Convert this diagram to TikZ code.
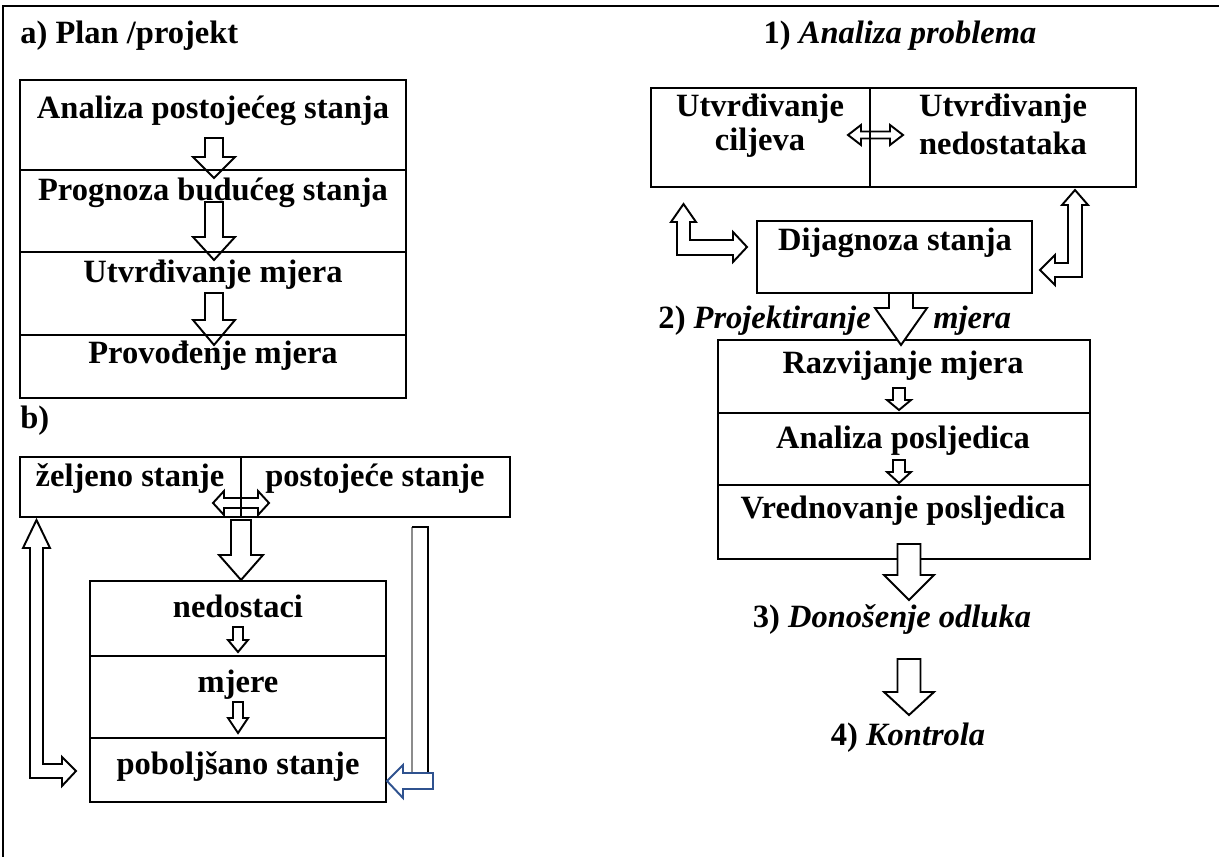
\documentclass[tikz,border=0pt]{standalone}
\usepackage{fontspec}
\setmainfont{Liberation Serif}
\begin{document}
\begin{tikzpicture}[x=0.02cm,y=-0.02cm,
  ln/.style={line width=1.1pt},
  blk/.style={line width=1.1pt, line join=miter},
  blkw/.style={line width=1.1pt, line join=miter, fill=white},
  txt/.style={font=\fontsize{18.5}{22}\selectfont\bfseries, inner sep=0pt},
  ttl/.style={font=\fontsize{18.5}{22}\selectfont\bfseries, inner sep=0pt}]
\useasboundingbox (0,0) rectangle (1219,857);
\newcommand{\hdown}[7][blk]{\draw[#1] (#2-#6,#3) -- (#2+#6,#3) -- (#2+#6,#4) -- (#2+#7,#4) -- (#2,#5) -- (#2-#7,#4) -- (#2-#6,#4) -- cycle;}
% frame
\draw[ln] (3,857) -- (3,6) -- (1219,6);
% titles
\node[ttl, anchor=west] (ta) at (20,36) {a) Plan /projekt};
\node[ttl] (t1) at (900,36) {1) \textit{Analiza problema}};
% box a
\draw[ln] (20,80) rectangle (406,398);
\draw[ln] (20,170) -- (406,170) (20,252) -- (406,252) (20,335) -- (406,335);
\node[txt] (a1) at (213,111) {Analiza postojećeg stanja};
\node[txt] (a2) at (213,193) {Prognoza budućeg stanja};
\node[txt] (a3) at (213,275) {Utvrđivanje mjera};
\node[txt] (a4) at (213,356) {Provođenje mjera};
\hdown{214}{138}{157}{178}{9}{21}
\hdown{214}{202}{237}{260}{9}{21}
\hdown{214}{293}{320}{345}{9}{21}
% b
\node[ttl, anchor=west] (tb) at (20,421) {b)};
\draw[ln] (20,457) rectangle (510,517);
\draw[ln] (241,457) -- (241,517);
\node[txt] (b1) at (130,479) {željeno stanje};
\node[txt] (b2) at (375,479) {postojeće stanje};
\draw[blk] (213,503) -- (224,491) -- (224,498) -- (258,498) -- (258,491) -- (269,503) -- (258,515) -- (258,508) -- (224,508) -- (224,515) -- cycle;
\hdown{241}{520}{555}{580}{10}{22}
\draw[ln] (90,581) rectangle (386,802);
\draw[ln] (90,656) -- (386,656) (90,738) -- (386,738);
\node[txt] (b3) at (238,606) {nedostaci};
\node[txt] (b4) at (238,685) {mjere};
\node[txt] (b5) at (238,766) {poboljšano stanje};
\hdown{238}{627}{640}{652}{5}{10}
\hdown{238}{702}{718}{733}{5}{10}
\draw[blk] (36.5,520) -- (50,548) -- (43,548) -- (43,764) -- (62,764) -- (62,757) -- (76,771) -- (62,786) -- (62,778) -- (30,778) -- (30,548) -- (23,548) -- cycle;
\draw[ln, draw=black!45] (412,773) -- (412,527);
\draw[ln] (412,527) -- (428,527) -- (428,773);
\draw[line width=1.1pt, draw={rgb,255:red,47;green,82;blue,143}, fill=white] (387,781) -- (403,765) -- (403,773) -- (433,773) -- (433,789) -- (403,789) -- (403,798) -- cycle;
% right side
\draw[ln] (651,88) rectangle (1136,187);
\draw[ln] (870,88) -- (870,187);
\node[txt] (u1) at (760,109) {Utvrđivanje};
\node[txt] (u2) at (760,143) {ciljeva};
\node[txt] (u3) at (1003,109) {Utvrđivanje};
\node[txt] (u4) at (1003,143) {nedostataka};
\draw[blk] (848,135) -- (861,125) -- (861,131.5) -- (890,131.5) -- (890,125) -- (903,135) -- (890,145) -- (890,138.5) -- (861,138.5) -- (861,145) -- cycle;
\draw[ln] (757,221) rectangle (1032,293);
\node[txt] (d) at (895,243) {Dijagnoza stanja};
\draw[blk] (683.5,204) -- (696,222) -- (690,222) -- (690,240) -- (733,240) -- (733,232) -- (747,247) -- (733,262) -- (733,255) -- (677,255) -- (677,222) -- (671,222) -- cycle;
\draw[blk] (1075,190) -- (1088,205) -- (1082,205) -- (1082,277) -- (1055,277) -- (1055,285) -- (1040,270) -- (1055,255) -- (1055,263) -- (1068,263) -- (1068,205) -- (1062,205) -- cycle;
\draw[ln] (718,340) rectangle (1090,559);
\draw[ln] (718,413) -- (1090,413) (718,485) -- (1090,485);
\hdown[blkw]{901}{293}{308}{345}{12}{26}
\node[ttl, anchor=east] (p2) at (871,321) {2) \textit{Projektiranje}};
\node[ttl, anchor=west] (p2b) at (933,321) {\textit{mjera}};
\node[txt] (r1) at (903,366) {Razvijanje mjera};
\node[txt] (r2) at (903,441) {Analiza posljedica};
\node[txt] (r3) at (903,511) {Vrednovanje posljedica};
\hdown{899}{388}{400}{410}{6}{12}
\hdown{899}{460}{472}{483}{6}{12}
\hdown[blkw]{909}{544}{575}{600}{11.5}{25}
\node[ttl] (p3) at (892,619) {3) \textit{Donošenje odluka}};
\hdown[blkw]{909}{659}{692}{715}{11.5}{25}
\node[ttl] (p4) at (908,738) {4) \textit{Kontrola}};
\end{tikzpicture}
\end{document}
